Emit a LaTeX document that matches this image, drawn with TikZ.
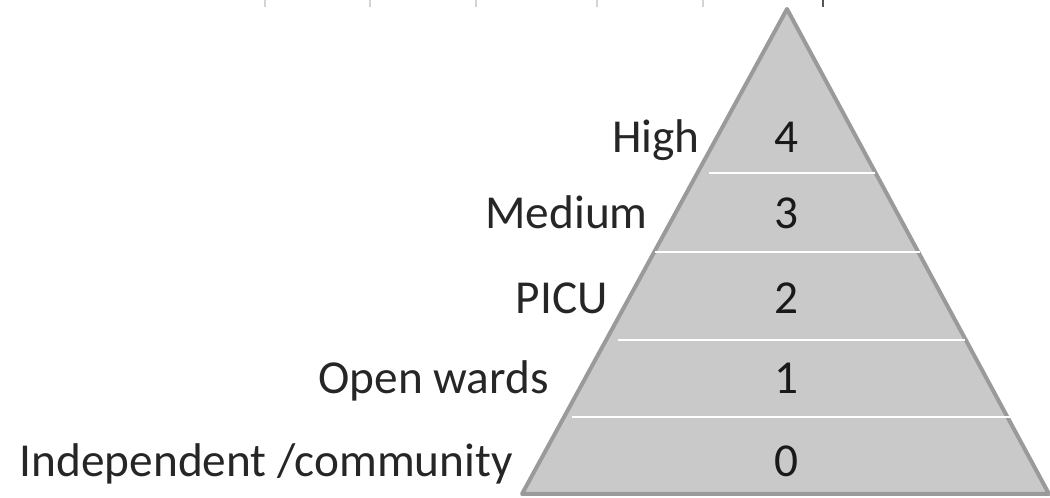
\documentclass[tikz,border=0pt]{standalone}
\usepackage{fontspec}
\setmainfont{Carlito}
\usepackage{xcolor}
\definecolor{pyramidfill}{HTML}{C9C9C9}
\definecolor{pyramidedge}{HTML}{9A9A9A}
\definecolor{ticklight}{HTML}{D4D4D4}
\definecolor{tickdark}{HTML}{555555}
\tikzstyle{level name}=[
    anchor = base east,
    inner sep = 0pt,
    text = black!85
]
\tikzstyle{level num}=[
    anchor = base,
    inner sep = 0pt,
    text = black!90
]

\begin{document}
\begin{tikzpicture}[x=1pt, y=1pt, font=\fontsize{47.3}{53}\selectfont,
        divider/.style = {draw=white, line width=2.5pt},
        tick/.style = {draw=ticklight, line width=1.6pt}]
        \useasboundingbox (0,0) rectangle (1050,498);

        % cut-off table borders at the top
        \foreach \x in {265,370,476,597,703}
            \draw[tick] (\x,491) -- (\x,498);
        \draw[tick, draw=tickdark] (823,491) -- (823,498);

        % pyramid
        \coordinate (top) at (787,489);
        \coordinate (bl) at (522,4);
        \coordinate (br) at (1049,4);
        \draw[draw=pyramidedge, fill=pyramidfill, line width=4pt, line join=round]
            (top) -- (br) -- (bl) -- cycle;

        \draw[divider] (709,325) -- (875,325);
        \draw[divider] (655,246) -- (920,246);
        \draw[divider] (618,158) -- (965,158);
        \draw[divider] (572,81) -- (1010,81);

        \node[level num] (n4) at (786,345) {4};
        \node[level num] (n3) at (786,269) {3};
        \node[level num] (n2) at (786,184) {2};
        \node[level num] (n1) at (786,104) {1};
        \node[level num] (n0) at (786,21) {0};

        \node[level name] (high) at (700,345) {High};
        \node[level name] (medium) at (648,269) {Medium};
        \node[level name] (picu) at (608,184) {PICU};
        \node[level name] (open) at (549,104) {Open wards};
        \node[level name] (indep) at (513,21) {Independent /community};

    \end{tikzpicture}
\end{document}
